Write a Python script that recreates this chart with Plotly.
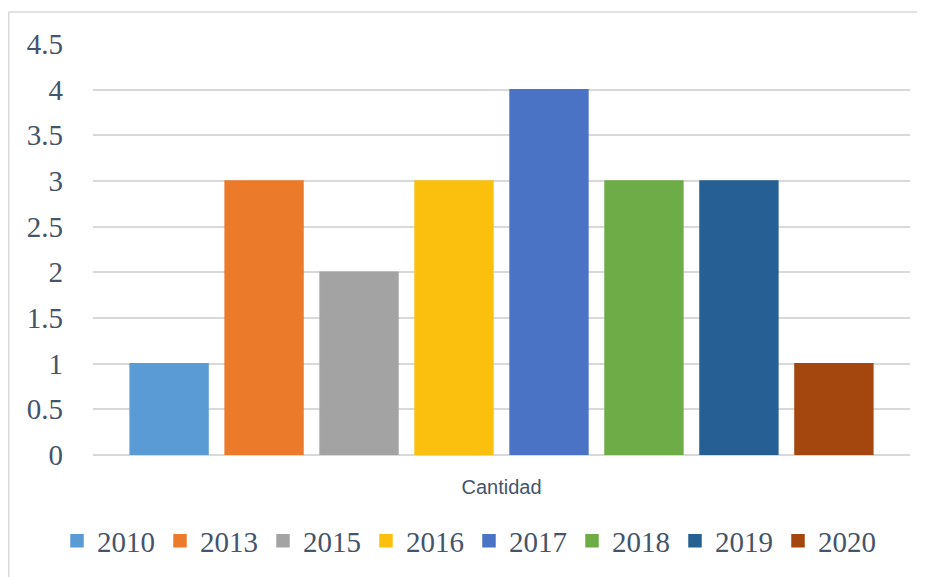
import plotly.graph_objects as go

category = ["Cantidad"]
years = ["2010", "2013", "2015", "2016", "2017", "2018", "2019", "2020"]
values = [1, 3, 2, 3, 4, 3, 3, 1]
colors = ["#5B9BD5", "#EC7A2B", "#A3A3A3", "#FBC00E", "#4A73C6", "#6DAC46", "#255F93", "#A4470F"]
y_ticks = [0, 0.5, 1, 1.5, 2, 2.5, 3, 3.5, 4, 4.5]
y_ticktext = ["0", "0.5", "1", "1.5", "2", "2.5", "3", "3.5", "4", "4.5"]

fig = go.Figure()
for yr, v, c in zip(years, values, colors):
    fig.add_trace(go.Bar(x=category, y=[v], name=yr,
                         marker=dict(color=c, line=dict(width=1.5, color=c))))

OFF = 8  # default page body margin
W, H = 925 - OFF, 577 - OFF
L, T = 93 - OFF, 44 - OFF
pw, ph = 817, 411
R = W - L - pw
B = H - T - ph

def px_x(p):
    return (p - OFF - L) / pw

def px_y(p):
    return (T + ph - (p - OFF)) / ph

text_col = "#44546A"
fig.update_layout(
    width=W, height=H,
    margin=dict(l=L, r=R, t=T, b=B, autoexpand=False),
    paper_bgcolor="white", plot_bgcolor="white",
    barmode="group", bargap=0.07, bargroupgap=0.18,
    showlegend=True,
    legend=dict(orientation="h", x=px_x(57), xanchor="left", y=px_y(541), yanchor="middle",
                font=dict(family="Liberation Serif", size=29, color=text_col),
                itemwidth=30, traceorder="normal", bgcolor="rgba(0,0,0,0)"),
    xaxis=dict(showgrid=False, showline=False, ticks="", ticklabelstandoff=18,
               tickfont=dict(family="Liberation Sans", size=20, color=text_col)),
    yaxis=dict(range=[0, 4.5], tickvals=y_ticks, ticktext=y_ticktext, showgrid=True,
               gridcolor="#D9D9D9", gridwidth=1.5, zeroline=True, zerolinecolor="#D9D9D9",
               zerolinewidth=1.5, ticks="", ticklabelstandoff=29,
               tickfont=dict(family="Liberation Serif", size=29, color=text_col)),
    shapes=[
        dict(type="line", xref="paper", yref="paper", x0=px_x(8.75), x1=px_x(925), y0=px_y(12), y1=px_y(12),
             line=dict(color="#D9D9D9", width=1.5)),
        dict(type="line", xref="paper", yref="paper", x0=px_x(8.75), x1=px_x(8.75), y0=px_y(12), y1=px_y(577),
             line=dict(color="#D9D9D9", width=1.5)),
    ],
)

fig.write_html("out.html")
